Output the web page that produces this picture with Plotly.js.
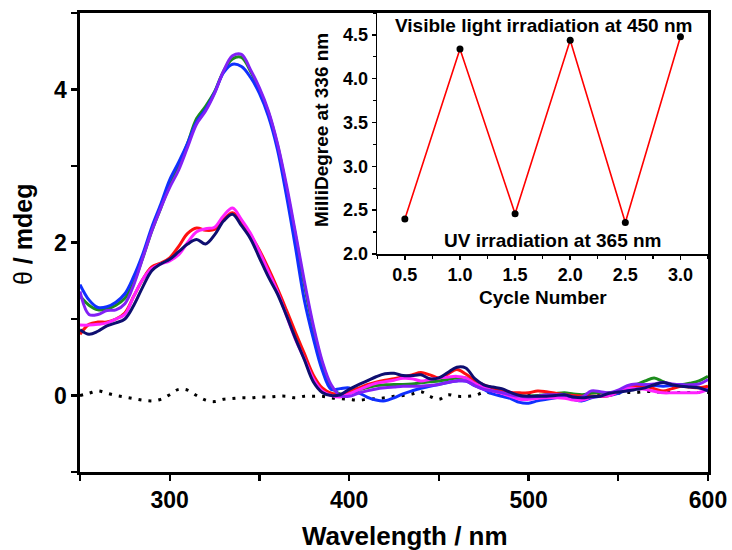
<!DOCTYPE html>
<html>
<head>
<meta charset="utf-8">
<script src="https://cdn.plot.ly/plotly-3.0.1.min.js"></script>
<style>html,body{margin:0;padding:0;background:#fff;}#chart{width:732px;height:550px;}</style>
</head>
<body>
<div id="chart"></div>
<script>
// Wavelength grid (nm)
const wavelength = [250,255,260,265,270,275,280,285,290,295,300,305,310,315,320,325,330,335,340,345,350,355,360,365,370,375,380,385,390,395,400,405,410,415,420,425,430,435,440,445,450,455,460,465,470,475,480,485,490,495,500,505,510,515,520,525,530,535,540,545,550,555,560,565,570,575,580,585,590,595,600];

const greenCD = [1.30,1.18,1.12,1.13,1.18,1.27,1.48,1.80,2.15,2.45,
  2.75,3.00,3.30,3.62,3.78,3.97,4.24,4.40,4.42,4.24,
  4.00,3.70,3.28,2.72,2.10,1.45,0.88,0.42,0.12,0.02,
  0.04,0.075,0.10,0.13,0.14,0.145,0.145,0.15,0.165,0.18,
  0.19,0.21,0.23,0.23,0.17,0.11,0.07,0.05,0.015,0.0,
  -0.01,0.0,0.01,0.025,0.035,0.02,0.01,0.03,0.035,0.035,
  0.05,0.09,0.14,0.19,0.23,0.18,0.14,0.14,0.16,0.19,
  0.25];
const blueCD = [1.45,1.25,1.15,1.16,1.22,1.33,1.56,1.85,2.20,2.50,
  2.82,3.05,3.30,3.58,3.74,3.96,4.22,4.33,4.30,4.16,
  3.95,3.65,3.22,2.62,1.95,1.25,0.75,0.33,0.08,0.09,
  0.10,0.04,-0.02,-0.06,-0.07,-0.03,0.02,0.06,0.095,0.12,
  0.145,0.17,0.19,0.19,0.13,0.08,0.02,-0.01,-0.04,-0.09,
  -0.10,-0.07,-0.05,-0.03,-0.01,-0.05,-0.07,-0.03,-0.01,0.0,
  0.03,0.08,0.11,0.14,0.13,0.12,0.13,0.14,0.12,0.10,
  0.08];
const purpleCD = [1.36,1.06,1.06,1.11,1.12,1.20,1.45,1.80,2.15,2.45,
  2.72,2.95,3.25,3.55,3.72,3.95,4.24,4.44,4.46,4.26,
  4.02,3.72,3.30,2.76,2.14,1.50,0.92,0.45,0.14,0.00,
  -0.01,0.03,0.06,0.085,0.10,0.11,0.12,0.12,0.122,0.13,
  0.145,0.17,0.19,0.19,0.13,0.08,0.06,0.04,0.01,-0.01,
  -0.02,-0.01,0.01,0.01,0.01,-0.02,-0.02,0.06,0.05,0.035,
  0.07,0.13,0.15,0.14,0.15,0.17,0.15,0.14,0.14,0.15,
  0.21];
const redCD = [0.80,0.93,0.96,0.96,1.00,1.08,1.30,1.52,1.68,1.73,
  1.80,1.95,2.12,2.19,2.16,2.17,2.30,2.39,2.27,2.10,
  1.90,1.66,1.40,1.12,0.83,0.55,0.27,0.10,0.03,0.01,
  0.05,0.095,0.14,0.175,0.20,0.22,0.245,0.27,0.30,0.27,
  0.23,0.28,0.34,0.28,0.20,0.14,0.10,0.07,0.04,0.035,
  0.035,0.06,0.05,0.03,0.01,0.0,-0.01,-0.01,-0.01,0.0,
  0.05,0.11,0.125,0.12,0.09,0.06,0.09,0.12,0.11,0.10,
  0.12];
const magentaCD = [0.92,0.92,0.93,0.95,1.00,1.06,1.30,1.52,1.66,1.72,
  1.76,1.84,2.00,2.14,2.18,2.20,2.35,2.45,2.30,2.12,
  1.88,1.62,1.36,1.05,0.74,0.48,0.22,0.06,0.00,-0.02,
  0.02,0.07,0.12,0.16,0.18,0.20,0.225,0.22,0.19,0.21,
  0.23,0.24,0.25,0.23,0.16,0.11,0.06,0.03,-0.01,-0.05,
  -0.05,-0.035,-0.03,-0.03,-0.035,-0.06,-0.06,-0.02,-0.01,0.0,
  0.05,0.10,0.09,0.08,0.055,0.035,0.035,0.035,0.035,0.04,
  0.08];
const navyCD = [0.86,0.80,0.84,0.91,0.95,1.00,1.18,1.42,1.63,1.72,
  1.78,1.88,1.98,2.04,1.98,2.10,2.28,2.37,2.22,2.05,
  1.80,1.55,1.33,1.05,0.75,0.47,0.18,0.04,0.00,0.01,
  0.08,0.14,0.19,0.245,0.285,0.29,0.26,0.26,0.27,0.22,
  0.23,0.30,0.37,0.36,0.22,0.14,0.11,0.09,0.04,0.0,
  -0.01,-0.01,-0.01,0.0,0.01,-0.02,-0.03,-0.015,-0.01,0.03,
  0.045,0.06,0.08,0.10,0.14,0.17,0.14,0.12,0.11,0.10,
  0.06];
const baselineCD = [0.00,0.03,0.06,0.03,0.00,-0.02,-0.04,-0.06,-0.07,-0.05,
  0.01,0.08,0.07,0.00,-0.06,-0.08,-0.05,-0.04,-0.03,-0.03,
  -0.02,-0.02,-0.01,-0.01,-0.03,-0.01,-0.01,-0.01,-0.03,-0.04,
  -0.05,-0.06,-0.05,-0.04,-0.03,-0.01,0.00,0.02,0.05,-0.01,
  -0.05,0.01,-0.01,-0.01,0.00,0.04,0.03,0.02,0.02,0.01,
  0.0,0.0,0.01,0.01,0.0,0.0,0.01,0.02,0.02,0.03,
  0.03,0.04,0.04,0.05,0.05,0.04,0.04,0.04,0.04,0.04,
  0.04];

// Inset data
const cycleNumber = [0.5,1.0,1.5,2.0,2.5,3.0];
const milliDegree336 = [2.40,4.34,2.46,4.44,2.36,4.48];

const FONT = 'Liberation Sans, Arial, Helvetica, sans-serif';

function spec(y, color){
  return {x: wavelength, y: y, type:'scatter', mode:'lines',
    line:{color:color, width:3, shape:'spline', smoothing:1},
    xaxis:'x', yaxis:'y', hoverinfo:'skip'};
}

const traces = [
  {x: wavelength, y: baselineCD, type:'scatter', mode:'lines',
   line:{color:'#000000', width:3, dash:'3px,7px', shape:'spline'}, xaxis:'x', yaxis:'y'},
  spec(greenCD, '#1c8c1c'),
  spec(blueCD, '#1030ff'),
  spec(redCD, '#ff1010'),
  spec(magentaCD, '#ff22ff'),
  spec(purpleCD, '#8220f5'),
  spec(navyCD, '#0e0e70'),
  {x: cycleNumber, y: milliDegree336, type:'scatter', mode:'lines+markers',
   line:{color:'#ff0000', width:1.6}, marker:{color:'#000000', size:7},
   xaxis:'x2', yaxis:'y2'}
];

const layout = {
  width:732, height:550,
  margin:{l:80, r:24, t:13, b:78},
  paper_bgcolor:'#ffffff', plot_bgcolor:'rgba(0,0,0,0)',
  showlegend:false,
  font:{family:FONT, color:'#000000'},
  xaxis:{
    domain:[0,1], range:[250,600], tick0:300, dtick:100,
    showline:true, mirror:true, linecolor:'#000', linewidth:2.6,
    ticks:'outside', ticklen:6, tickwidth:2.4, tickcolor:'#000',
    minor:{dtick:50, tick0:250, ticks:'outside', ticklen:6, tickwidth:2.4, tickcolor:'#000'},
    showgrid:false, zeroline:false,
    tickfont:{family:FONT, size:23, weight:'bold', color:'#000'}
  },
  yaxis:{
    domain:[0,1], range:[-1,5], tick0:0, dtick:2,
    showline:true, mirror:true, linecolor:'#000', linewidth:2.6,
    ticks:'outside', ticklen:6, tickwidth:2.4, tickcolor:'#000',
    minor:{dtick:1, tick0:-1, ticks:'outside', ticklen:6, tickwidth:2.4, tickcolor:'#000'},
    showgrid:false, zeroline:false,
    tickfont:{family:FONT, size:23, weight:'bold', color:'#000'}
  },
  xaxis2:{
    domain:[0.4734,1], anchor:'y2', range:[0.25,3.25], tick0:0.5, dtick:0.5, tickformat:'.1f',
    showline:true, linecolor:'#000', linewidth:1.6,
    ticks:'outside', ticklen:4, tickwidth:1.5, tickcolor:'#000',
    minor:{dtick:0.25, tick0:0.25, ticks:'outside', ticklen:3, tickwidth:1.3, tickcolor:'#000'},
    showgrid:false, zeroline:false,
    tickfont:{family:FONT, size:18, weight:'bold', color:'#000'}
  },
  yaxis2:{
    domain:[0.475,1], anchor:'x2', range:[2.0,4.75], tick0:2.0, dtick:0.5, tickformat:'.1f',
    showline:true, linecolor:'#000', linewidth:1.6,
    ticks:'outside', ticklen:4, tickwidth:1.5, tickcolor:'#000',
    minor:{dtick:0.25, tick0:2.0, ticks:'outside', ticklen:3, tickwidth:1.3, tickcolor:'#000'},
    showgrid:false, zeroline:false,
    tickfont:{family:FONT, size:18, weight:'bold', color:'#000'}
  },
  annotations:[
    {xref:'paper', yref:'paper', x:0.5175, y:-0.1394, xanchor:'center', yanchor:'middle', showarrow:false,
     text:'Wavelength / nm', font:{family:FONT, size:26, weight:'bold'}},
    {xref:'paper', yref:'paper', x:-0.0908, y:0.5185, xanchor:'center', yanchor:'middle', showarrow:false, textangle:-90,
     text:'θ<b> / mdeg</b>', font:{family:FONT, size:25}},
    {xref:'paper', yref:'paper', x:0.3854, y:0.7451, xanchor:'center', yanchor:'middle', showarrow:false, textangle:-90,
     text:'MilliDegree at 336 nm', font:{family:FONT, size:19, weight:'bold'}},
    {xref:'paper', yref:'paper', x:0.7373, y:0.3791, xanchor:'center', yanchor:'middle', showarrow:false,
     text:'Cycle Number', font:{family:FONT, size:19, weight:'bold'}},
    {xref:'paper', yref:'paper', x:0.7373, y:0.9717, xanchor:'center', yanchor:'middle', showarrow:false,
     text:'Visible light irradiation at 450 nm', font:{family:FONT, size:19, weight:'bold'}},
    {xref:'paper', yref:'paper', x:0.7532, y:0.5054, xanchor:'center', yanchor:'middle', showarrow:false,
     text:'UV irradiation at 365 nm', font:{family:FONT, size:19, weight:'bold'}}
  ]
};

Plotly.newPlot('chart', traces, layout, {displayModeBar:false, staticPlot:true});
</script>
</body>
</html>
